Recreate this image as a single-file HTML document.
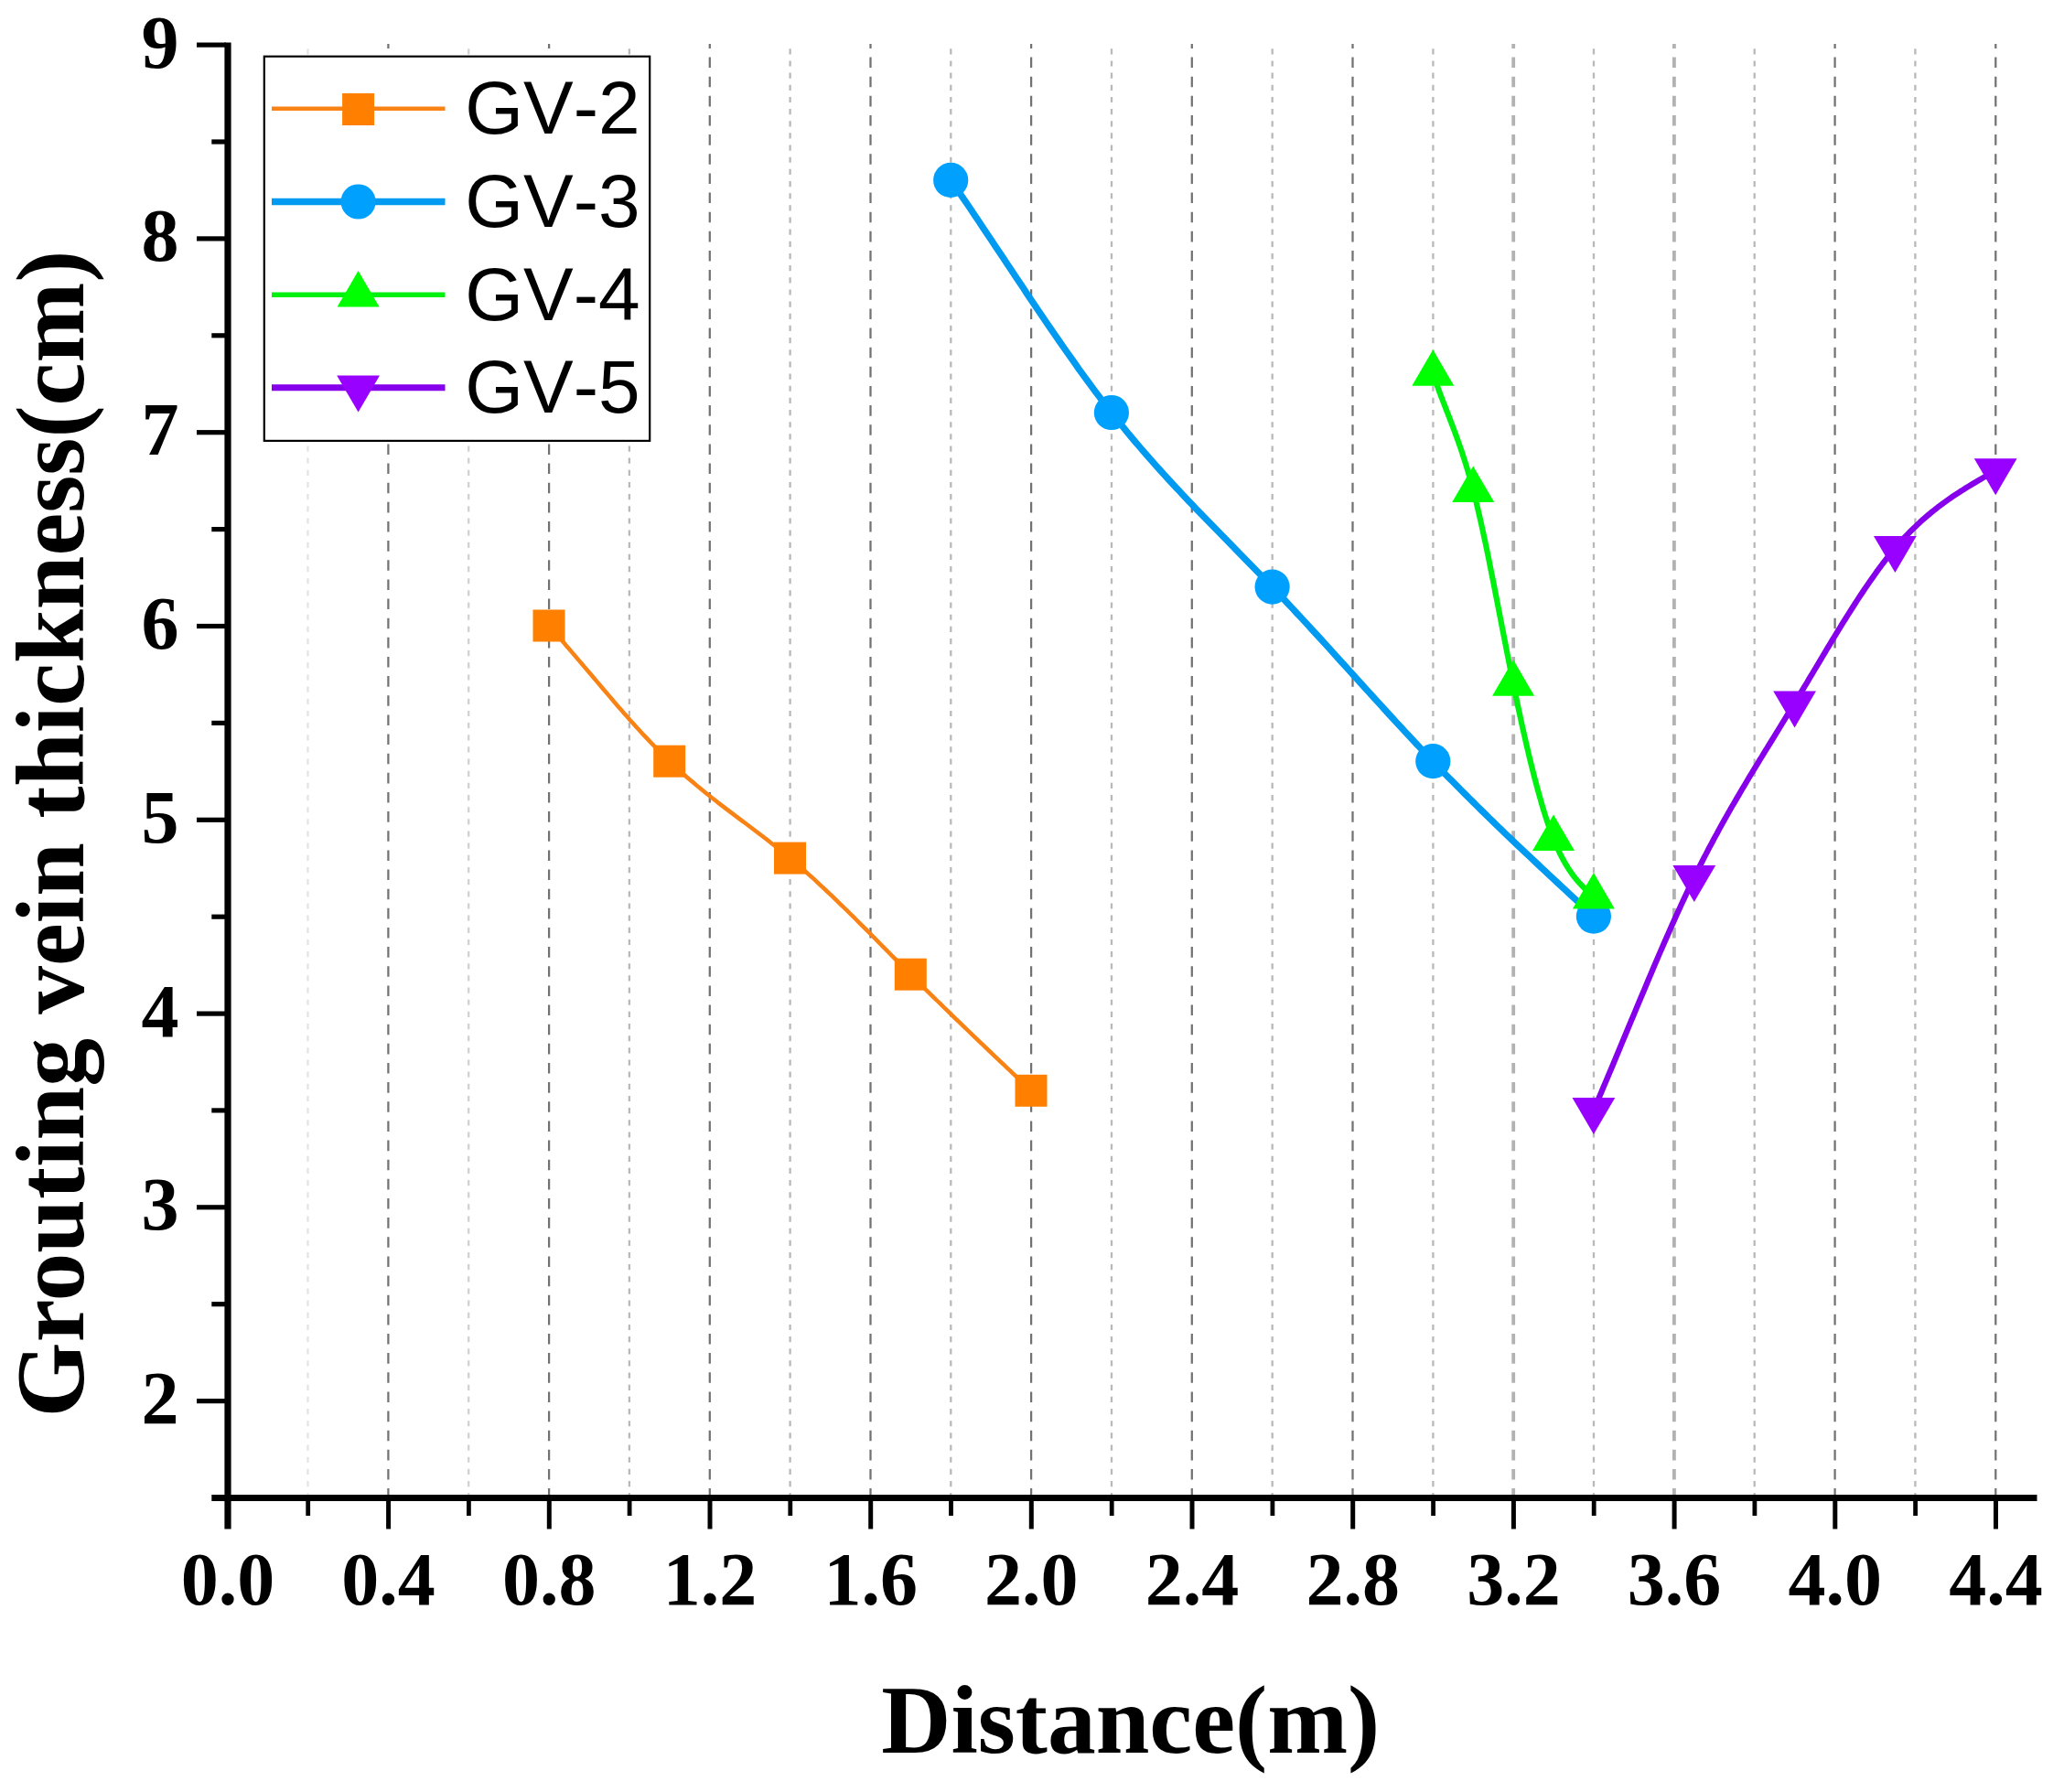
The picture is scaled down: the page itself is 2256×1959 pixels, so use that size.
<!DOCTYPE html>
<html lang="en"><head><meta charset="utf-8"><title>Grouting vein thickness vs distance</title>
<style>html,body{margin:0;padding:0;background:#fff}svg{display:block}</style></head>
<body>
<svg width="2256" height="1959" viewBox="0 0 2256 1959">
<rect width="2256" height="1959" fill="#fff"/>
<g fill="none">
<line x1="336.5" y1="1633.95" x2="336.5" y2="53.2" stroke="#e4e4e4" stroke-width="2.3" stroke-dasharray="6.2 6.957" stroke-dashoffset="4.35"/>
<line x1="424.4" y1="1633.95" x2="424.4" y2="48" stroke="#727272" stroke-width="2.25" stroke-dasharray="11.6 9.543" stroke-dashoffset="4.75"/>
<line x1="512.2" y1="1633.95" x2="512.2" y2="53.2" stroke="#d2d2d2" stroke-width="2.3" stroke-dasharray="6.2 6.957" stroke-dashoffset="4.35"/>
<line x1="600.1" y1="1633.95" x2="600.1" y2="48" stroke="#727272" stroke-width="2.25" stroke-dasharray="11.6 9.543" stroke-dashoffset="4.75"/>
<line x1="687.9" y1="1633.95" x2="687.9" y2="53.2" stroke="#b9b9b9" stroke-width="2.3" stroke-dasharray="6.2 6.957" stroke-dashoffset="4.35"/>
<line x1="775.8" y1="1633.95" x2="775.8" y2="48" stroke="#727272" stroke-width="2.25" stroke-dasharray="11.6 9.543" stroke-dashoffset="4.75"/>
<line x1="863.6" y1="1633.95" x2="863.6" y2="53.2" stroke="#b9b9b9" stroke-width="2.3" stroke-dasharray="6.2 6.957" stroke-dashoffset="4.35"/>
<line x1="951.5" y1="1633.95" x2="951.5" y2="48" stroke="#727272" stroke-width="2.25" stroke-dasharray="11.6 9.543" stroke-dashoffset="4.75"/>
<line x1="1039.3" y1="1633.95" x2="1039.3" y2="53.2" stroke="#b9b9b9" stroke-width="2.3" stroke-dasharray="6.2 6.957" stroke-dashoffset="4.35"/>
<line x1="1127.1" y1="1633.95" x2="1127.1" y2="48" stroke="#727272" stroke-width="2.25" stroke-dasharray="11.6 9.543" stroke-dashoffset="4.75"/>
<line x1="1215.0" y1="1633.95" x2="1215.0" y2="53.2" stroke="#b9b9b9" stroke-width="2.3" stroke-dasharray="6.2 6.957" stroke-dashoffset="4.35"/>
<line x1="1302.8" y1="1633.95" x2="1302.8" y2="48" stroke="#727272" stroke-width="2.25" stroke-dasharray="11.6 9.543" stroke-dashoffset="4.75"/>
<line x1="1390.7" y1="1633.95" x2="1390.7" y2="53.2" stroke="#b9b9b9" stroke-width="2.3" stroke-dasharray="6.2 6.957" stroke-dashoffset="4.35"/>
<line x1="1478.5" y1="1633.95" x2="1478.5" y2="48" stroke="#727272" stroke-width="2.25" stroke-dasharray="11.6 9.543" stroke-dashoffset="4.75"/>
<line x1="1566.4" y1="1633.95" x2="1566.4" y2="53.2" stroke="#b9b9b9" stroke-width="2.3" stroke-dasharray="6.2 6.957" stroke-dashoffset="4.35"/>
<line x1="1654.2" y1="1633.95" x2="1654.2" y2="48" stroke="#b2b2b2" stroke-width="3.8" stroke-dasharray="11.6 9.543" stroke-dashoffset="4.75"/>
<line x1="1742.0" y1="1633.95" x2="1742.0" y2="53.2" stroke="#b9b9b9" stroke-width="2.3" stroke-dasharray="6.2 6.957" stroke-dashoffset="4.35"/>
<line x1="1829.9" y1="1633.95" x2="1829.9" y2="48" stroke="#b2b2b2" stroke-width="3.8" stroke-dasharray="11.6 9.543" stroke-dashoffset="4.75"/>
<line x1="1917.7" y1="1633.95" x2="1917.7" y2="53.2" stroke="#b9b9b9" stroke-width="2.3" stroke-dasharray="6.2 6.957" stroke-dashoffset="4.35"/>
<line x1="2005.6" y1="1633.95" x2="2005.6" y2="48" stroke="#727272" stroke-width="2.25" stroke-dasharray="11.6 9.543" stroke-dashoffset="4.75"/>
<line x1="2093.4" y1="1633.95" x2="2093.4" y2="53.2" stroke="#b9b9b9" stroke-width="2.3" stroke-dasharray="6.2 6.957" stroke-dashoffset="4.35"/>
<line x1="2181.3" y1="1633.95" x2="2181.3" y2="48" stroke="#727272" stroke-width="2.25" stroke-dasharray="11.6 9.543" stroke-dashoffset="4.75"/>
</g>
<g stroke="#000" fill="none">
<line x1="249.0" y1="46.6" x2="249.0" y2="1671.5" stroke-width="7.2"/>
<line x1="231.3" y1="1637.45" x2="2226.5" y2="1637.45" stroke-width="7"/>
<line x1="215" y1="1531.6" x2="247" y2="1531.6" stroke-width="5.2"/>
<line x1="231.3" y1="1425.7" x2="247" y2="1425.7" stroke-width="5.2"/>
<line x1="215" y1="1319.8" x2="247" y2="1319.8" stroke-width="5.2"/>
<line x1="231.3" y1="1213.9" x2="247" y2="1213.9" stroke-width="5.2"/>
<line x1="215" y1="1108.1" x2="247" y2="1108.1" stroke-width="5.2"/>
<line x1="231.3" y1="1002.2" x2="247" y2="1002.2" stroke-width="5.2"/>
<line x1="215" y1="896.3" x2="247" y2="896.3" stroke-width="5.2"/>
<line x1="231.3" y1="790.4" x2="247" y2="790.4" stroke-width="5.2"/>
<line x1="215" y1="684.5" x2="247" y2="684.5" stroke-width="5.2"/>
<line x1="231.3" y1="578.6" x2="247" y2="578.6" stroke-width="5.2"/>
<line x1="215" y1="472.7" x2="247" y2="472.7" stroke-width="5.2"/>
<line x1="231.3" y1="366.8" x2="247" y2="366.8" stroke-width="5.2"/>
<line x1="215" y1="260.9" x2="247" y2="260.9" stroke-width="5.2"/>
<line x1="231.3" y1="155.0" x2="247" y2="155.0" stroke-width="5.2"/>
<line x1="215" y1="49.1" x2="247" y2="49.1" stroke-width="5.2"/>
<line x1="336.7" y1="1637.45" x2="336.7" y2="1657" stroke-width="4.8"/>
<line x1="424.6" y1="1637.45" x2="424.6" y2="1671.5" stroke-width="5"/>
<line x1="512.4" y1="1637.45" x2="512.4" y2="1657" stroke-width="4.8"/>
<line x1="600.3" y1="1637.45" x2="600.3" y2="1671.5" stroke-width="5"/>
<line x1="688.1" y1="1637.45" x2="688.1" y2="1657" stroke-width="4.8"/>
<line x1="776.0" y1="1637.45" x2="776.0" y2="1671.5" stroke-width="5"/>
<line x1="863.8" y1="1637.45" x2="863.8" y2="1657" stroke-width="4.8"/>
<line x1="951.7" y1="1637.45" x2="951.7" y2="1671.5" stroke-width="5"/>
<line x1="1039.5" y1="1637.45" x2="1039.5" y2="1657" stroke-width="4.8"/>
<line x1="1127.3" y1="1637.45" x2="1127.3" y2="1671.5" stroke-width="5"/>
<line x1="1215.2" y1="1637.45" x2="1215.2" y2="1657" stroke-width="4.8"/>
<line x1="1303.0" y1="1637.45" x2="1303.0" y2="1671.5" stroke-width="5"/>
<line x1="1390.9" y1="1637.45" x2="1390.9" y2="1657" stroke-width="4.8"/>
<line x1="1478.7" y1="1637.45" x2="1478.7" y2="1671.5" stroke-width="5"/>
<line x1="1566.6" y1="1637.45" x2="1566.6" y2="1657" stroke-width="4.8"/>
<line x1="1654.4" y1="1637.45" x2="1654.4" y2="1671.5" stroke-width="5"/>
<line x1="1742.2" y1="1637.45" x2="1742.2" y2="1657" stroke-width="4.8"/>
<line x1="1830.1" y1="1637.45" x2="1830.1" y2="1671.5" stroke-width="5"/>
<line x1="1917.9" y1="1637.45" x2="1917.9" y2="1657" stroke-width="4.8"/>
<line x1="2005.8" y1="1637.45" x2="2005.8" y2="1671.5" stroke-width="5"/>
<line x1="2093.6" y1="1637.45" x2="2093.6" y2="1657" stroke-width="4.8"/>
<line x1="2181.5" y1="1637.45" x2="2181.5" y2="1671.5" stroke-width="5"/>
</g>
<path d="M600.0 684.0 L603.3 687.7 L606.6 691.5 L609.9 695.2 L613.2 699.0 L616.4 702.8 L619.7 706.7 L623.0 710.5 L626.3 714.4 L629.6 718.2 L632.9 722.1 L636.2 726.0 L639.5 729.9 L642.8 733.8 L646.1 737.6 L649.4 741.5 L652.7 745.4 L656.0 749.3 L659.3 753.2 L662.6 757.0 L665.9 760.9 L669.2 764.7 L672.4 768.6 L675.7 772.4 L679.0 776.1 L682.3 779.9 L685.6 783.6 L688.9 787.4 L692.2 791.0 L695.5 794.7 L698.8 798.3 L702.1 801.9 L705.4 805.4 L708.7 808.9 L712.0 812.4 L715.3 815.8 L718.6 819.2 L721.9 822.5 L725.2 825.8 L728.4 829.1 L731.7 832.2 L735.0 835.4 L738.3 838.4 L741.6 841.4 L744.9 844.4 L748.2 847.3 L751.5 850.2 L754.8 853.0 L758.1 855.8 L761.4 858.6 L764.7 861.3 L768.0 864.0 L771.3 866.7 L774.6 869.3 L777.9 871.9 L781.2 874.5 L784.4 877.1 L787.7 879.6 L791.0 882.1 L794.3 884.6 L797.6 887.1 L800.9 889.6 L804.2 892.1 L807.5 894.6 L810.8 897.1 L814.1 899.5 L817.4 902.0 L820.7 904.5 L824.0 907.0 L827.3 909.5 L830.6 912.0 L833.9 914.5 L837.2 917.0 L840.4 919.6 L843.7 922.2 L847.0 924.7 L850.3 927.4 L853.6 930.0 L856.9 932.7 L860.2 935.4 L863.5 938.1 L866.8 940.9 L870.1 943.7 L873.4 946.6 L876.7 949.4 L880.0 952.3 L883.3 955.3 L886.6 958.2 L889.9 961.2 L893.2 964.3 L896.4 967.3 L899.7 970.4 L903.0 973.5 L906.3 976.6 L909.6 979.7 L912.9 982.9 L916.2 986.1 L919.5 989.3 L922.8 992.5 L926.1 995.7 L929.4 999.0 L932.7 1002.2 L936.0 1005.5 L939.3 1008.8 L942.6 1012.1 L945.9 1015.4 L949.2 1018.7 L952.5 1022.0 L955.7 1025.3 L959.0 1028.6 L962.3 1032.0 L965.6 1035.3 L968.9 1038.6 L972.2 1042.0 L975.5 1045.3 L978.8 1048.6 L982.1 1051.9 L985.4 1055.3 L988.7 1058.6 L992.0 1061.9 L995.3 1065.2 L998.6 1068.5 L1001.9 1071.8 L1005.2 1075.0 L1008.5 1078.3 L1011.7 1081.6 L1015.0 1084.8 L1018.3 1088.1 L1021.6 1091.3 L1024.9 1094.5 L1028.2 1097.7 L1031.5 1101.0 L1034.8 1104.2 L1038.1 1107.4 L1041.4 1110.6 L1044.7 1113.8 L1048.0 1116.9 L1051.3 1120.1 L1054.6 1123.3 L1057.9 1126.5 L1061.2 1129.6 L1064.5 1132.8 L1067.7 1135.9 L1071.0 1139.1 L1074.3 1142.2 L1077.6 1145.4 L1080.9 1148.5 L1084.2 1151.7 L1087.5 1154.8 L1090.8 1157.9 L1094.1 1161.1 L1097.4 1164.2 L1100.7 1167.3 L1104.0 1170.4 L1107.3 1173.6 L1110.6 1176.7 L1113.9 1179.8 L1117.2 1182.9 L1120.5 1186.0 L1123.7 1189.1 L1127.0 1192.3" fill="none" stroke="#F88214" stroke-width="4.5" stroke-linejoin="round"/>
<rect x="582.5" y="666.5" width="35" height="35" fill="#FF8000"/>
<rect x="714.2" y="814.7" width="35" height="35" fill="#FF8000"/>
<rect x="846.0" y="920.6" width="35" height="35" fill="#FF8000"/>
<rect x="977.8" y="1047.7" width="35" height="35" fill="#FF8000"/>
<rect x="1109.5" y="1174.8" width="35" height="35" fill="#FF8000"/>
<path d="M1039.2 196.9 L1043.6 203.3 L1048.0 209.7 L1052.4 216.1 L1056.8 222.6 L1061.2 229.1 L1065.5 235.6 L1069.9 242.1 L1074.3 248.7 L1078.7 255.3 L1083.1 261.8 L1087.5 268.4 L1091.9 275.0 L1096.3 281.6 L1100.7 288.2 L1105.1 294.8 L1109.5 301.4 L1113.9 308.0 L1118.3 314.6 L1122.6 321.2 L1127.0 327.7 L1131.4 334.3 L1135.8 340.8 L1140.2 347.3 L1144.6 353.7 L1149.0 360.1 L1153.4 366.5 L1157.8 372.9 L1162.2 379.2 L1166.6 385.5 L1171.0 391.7 L1175.4 397.9 L1179.7 404.1 L1184.1 410.1 L1188.5 416.2 L1192.9 422.1 L1197.3 428.1 L1201.7 433.9 L1206.1 439.7 L1210.5 445.4 L1214.9 451.0 L1219.3 456.6 L1223.7 462.1 L1228.1 467.5 L1232.5 472.9 L1236.8 478.1 L1241.2 483.4 L1245.6 488.5 L1250.0 493.6 L1254.4 498.7 L1258.8 503.7 L1263.2 508.6 L1267.6 513.5 L1272.0 518.4 L1276.4 523.2 L1280.8 528.0 L1285.2 532.7 L1289.6 537.4 L1293.9 542.1 L1298.3 546.7 L1302.7 551.3 L1307.1 555.9 L1311.5 560.5 L1315.9 565.0 L1320.3 569.5 L1324.7 574.1 L1329.1 578.6 L1333.5 583.0 L1337.9 587.5 L1342.3 592.0 L1346.7 596.5 L1351.0 600.9 L1355.4 605.4 L1359.8 609.9 L1364.2 614.4 L1368.6 618.9 L1373.0 623.4 L1377.4 627.9 L1381.8 632.5 L1386.2 637.0 L1390.6 641.6 L1395.0 646.2 L1399.4 650.9 L1403.7 655.5 L1408.1 660.2 L1412.5 664.9 L1416.9 669.7 L1421.3 674.4 L1425.7 679.1 L1430.1 683.9 L1434.5 688.7 L1438.9 693.5 L1443.3 698.3 L1447.7 703.1 L1452.1 707.9 L1456.5 712.8 L1460.8 717.6 L1465.2 722.5 L1469.6 727.3 L1474.0 732.2 L1478.4 737.0 L1482.8 741.9 L1487.2 746.7 L1491.6 751.6 L1496.0 756.4 L1500.4 761.2 L1504.8 766.1 L1509.2 770.9 L1513.6 775.7 L1517.9 780.5 L1522.3 785.3 L1526.7 790.1 L1531.1 794.8 L1535.5 799.6 L1539.9 804.3 L1544.3 809.0 L1548.7 813.7 L1553.1 818.4 L1557.5 823.0 L1561.9 827.6 L1566.3 832.2 L1570.7 836.8 L1575.0 841.4 L1579.4 845.9 L1583.8 850.4 L1588.2 854.8 L1592.6 859.3 L1597.0 863.7 L1601.4 868.1 L1605.8 872.5 L1610.2 876.9 L1614.6 881.2 L1619.0 885.6 L1623.4 889.9 L1627.8 894.2 L1632.1 898.4 L1636.5 902.7 L1640.9 906.9 L1645.3 911.2 L1649.7 915.4 L1654.1 919.6 L1658.5 923.8 L1662.9 927.9 L1667.3 932.1 L1671.7 936.2 L1676.1 940.4 L1680.5 944.5 L1684.8 948.6 L1689.2 952.7 L1693.6 956.8 L1698.0 960.9 L1702.4 965.0 L1706.8 969.1 L1711.2 973.2 L1715.6 977.3 L1720.0 981.3 L1724.4 985.4 L1728.8 989.5 L1733.2 993.5 L1737.6 997.6 L1741.9 1001.7" fill="none" stroke="#009AF0" stroke-width="7.2" stroke-linejoin="round"/>
<circle cx="1039.2" cy="196.9" r="19.1" fill="#00A0FF"/>
<circle cx="1214.9" cy="451.0" r="19.1" fill="#00A0FF"/>
<circle cx="1390.6" cy="641.6" r="19.1" fill="#00A0FF"/>
<circle cx="1566.3" cy="832.2" r="19.1" fill="#00A0FF"/>
<circle cx="1741.9" cy="1001.7" r="19.1" fill="#00A0FF"/>
<path d="M1566.3 408.7 L1567.4 411.8 L1568.5 414.9 L1569.6 418.0 L1570.7 421.0 L1571.8 424.0 L1572.8 426.9 L1573.9 429.9 L1575.0 432.8 L1576.1 435.6 L1577.2 438.5 L1578.3 441.4 L1579.4 444.2 L1580.5 447.0 L1581.6 449.9 L1582.7 452.7 L1583.8 455.5 L1584.9 458.4 L1586.0 461.3 L1587.1 464.1 L1588.2 467.1 L1589.3 470.0 L1590.4 472.9 L1591.5 475.9 L1592.6 479.0 L1593.7 482.0 L1594.8 485.2 L1595.9 488.3 L1597.0 491.6 L1598.1 494.8 L1599.2 498.2 L1600.3 501.6 L1601.4 505.0 L1602.5 508.6 L1603.6 512.2 L1604.7 515.9 L1605.8 519.7 L1606.9 523.6 L1608.0 527.5 L1609.1 531.6 L1610.2 535.7 L1611.3 540.0 L1612.4 544.4 L1613.5 548.8 L1614.6 553.4 L1615.7 558.0 L1616.8 562.7 L1617.9 567.5 L1619.0 572.4 L1620.1 577.4 L1621.2 582.4 L1622.3 587.5 L1623.4 592.6 L1624.5 597.8 L1625.6 603.1 L1626.7 608.4 L1627.8 613.8 L1628.8 619.2 L1629.9 624.6 L1631.0 630.1 L1632.1 635.7 L1633.2 641.2 L1634.3 646.8 L1635.4 652.4 L1636.5 658.0 L1637.6 663.6 L1638.7 669.3 L1639.8 675.0 L1640.9 680.6 L1642.0 686.3 L1643.1 691.9 L1644.2 697.6 L1645.3 703.2 L1646.4 708.8 L1647.5 714.5 L1648.6 720.0 L1649.7 725.6 L1650.8 731.1 L1651.9 736.6 L1653.0 742.1 L1654.1 747.5 L1655.2 752.9 L1656.3 758.2 L1657.4 763.5 L1658.5 768.8 L1659.6 774.0 L1660.7 779.1 L1661.8 784.2 L1662.9 789.3 L1664.0 794.3 L1665.1 799.2 L1666.2 804.1 L1667.3 808.9 L1668.4 813.7 L1669.5 818.4 L1670.6 823.1 L1671.7 827.7 L1672.8 832.2 L1673.9 836.7 L1675.0 841.1 L1676.1 845.4 L1677.2 849.7 L1678.3 853.9 L1679.4 858.0 L1680.5 862.1 L1681.6 866.1 L1682.7 870.1 L1683.8 873.9 L1684.8 877.7 L1685.9 881.4 L1687.0 885.0 L1688.1 888.6 L1689.2 892.1 L1690.3 895.5 L1691.4 898.8 L1692.5 902.0 L1693.6 905.2 L1694.7 908.3 L1695.8 911.2 L1696.9 914.1 L1698.0 916.9 L1699.1 919.7 L1700.2 922.3 L1701.3 924.9 L1702.4 927.3 L1703.5 929.7 L1704.6 932.0 L1705.7 934.3 L1706.8 936.4 L1707.9 938.5 L1709.0 940.6 L1710.1 942.5 L1711.2 944.4 L1712.3 946.3 L1713.4 948.0 L1714.5 949.8 L1715.6 951.4 L1716.7 953.0 L1717.8 954.6 L1718.9 956.1 L1720.0 957.6 L1721.1 959.0 L1722.2 960.4 L1723.3 961.7 L1724.4 963.0 L1725.5 964.3 L1726.6 965.5 L1727.7 966.7 L1728.8 967.9 L1729.9 969.0 L1731.0 970.1 L1732.1 971.2 L1733.2 972.3 L1734.3 973.4 L1735.4 974.4 L1736.5 975.4 L1737.6 976.5 L1738.7 977.5 L1739.8 978.5 L1740.8 979.5 L1741.9 980.5" fill="none" stroke="#00F010" stroke-width="6.2" stroke-linejoin="round"/>
<path d="M1566.3 382.3 L1589.3 421.8 L1543.3 421.8 Z" fill="#00FF00"/>
<path d="M1610.2 509.4 L1633.2 548.9 L1587.2 548.9 Z" fill="#00FF00"/>
<path d="M1654.1 721.2 L1677.1 760.7 L1631.1 760.7 Z" fill="#00FF00"/>
<path d="M1698.0 890.6 L1721.0 930.1 L1675.0 930.1 Z" fill="#00FF00"/>
<path d="M1741.9 954.1 L1764.9 993.6 L1718.9 993.6 Z" fill="#00FF00"/>
<path d="M1741.9 1213.4 L1744.7 1207.1 L1747.4 1200.7 L1750.2 1194.2 L1752.9 1187.8 L1755.7 1181.3 L1758.4 1174.8 L1761.2 1168.2 L1763.9 1161.7 L1766.7 1155.1 L1769.4 1148.5 L1772.1 1141.9 L1774.9 1135.3 L1777.6 1128.7 L1780.4 1122.1 L1783.1 1115.5 L1785.9 1109.0 L1788.6 1102.4 L1791.4 1095.8 L1794.1 1089.2 L1796.9 1082.7 L1799.6 1076.2 L1802.3 1069.7 L1805.1 1063.2 L1807.8 1056.7 L1810.6 1050.3 L1813.3 1043.9 L1816.1 1037.5 L1818.8 1031.2 L1821.6 1024.9 L1824.3 1018.7 L1827.0 1012.5 L1829.8 1006.4 L1832.5 1000.3 L1835.3 994.2 L1838.0 988.3 L1840.8 982.3 L1843.5 976.5 L1846.3 970.7 L1849.0 965.0 L1851.8 959.3 L1854.5 953.7 L1857.2 948.2 L1860.0 942.8 L1862.7 937.4 L1865.5 932.1 L1868.2 926.8 L1871.0 921.7 L1873.7 916.5 L1876.5 911.5 L1879.2 906.4 L1881.9 901.5 L1884.7 896.5 L1887.4 891.7 L1890.2 886.8 L1892.9 882.0 L1895.7 877.3 L1898.4 872.6 L1901.2 867.9 L1903.9 863.2 L1906.7 858.6 L1909.4 854.0 L1912.1 849.4 L1914.9 844.9 L1917.6 840.4 L1920.4 835.8 L1923.1 831.3 L1925.9 826.9 L1928.6 822.4 L1931.4 817.9 L1934.1 813.5 L1936.9 809.0 L1939.6 804.6 L1942.3 800.1 L1945.1 795.6 L1947.8 791.2 L1950.6 786.7 L1953.3 782.2 L1956.1 777.7 L1958.8 773.2 L1961.6 768.7 L1964.3 764.2 L1967.0 759.6 L1969.8 755.0 L1972.5 750.4 L1975.3 745.8 L1978.0 741.2 L1980.8 736.6 L1983.5 732.0 L1986.3 727.4 L1989.0 722.8 L1991.8 718.2 L1994.5 713.6 L1997.2 709.0 L2000.0 704.5 L2002.7 699.9 L2005.5 695.4 L2008.2 690.9 L2011.0 686.4 L2013.7 681.9 L2016.5 677.5 L2019.2 673.1 L2022.0 668.8 L2024.7 664.5 L2027.4 660.2 L2030.2 655.9 L2032.9 651.7 L2035.7 647.6 L2038.4 643.5 L2041.2 639.5 L2043.9 635.5 L2046.7 631.6 L2049.4 627.7 L2052.1 623.9 L2054.9 620.2 L2057.6 616.5 L2060.4 612.9 L2063.1 609.4 L2065.9 605.9 L2068.6 602.6 L2071.4 599.3 L2074.1 596.1 L2076.9 593.0 L2079.6 589.9 L2082.3 587.0 L2085.1 584.1 L2087.8 581.3 L2090.6 578.5 L2093.3 575.9 L2096.1 573.3 L2098.8 570.7 L2101.6 568.2 L2104.3 565.8 L2107.0 563.5 L2109.8 561.2 L2112.5 558.9 L2115.3 556.8 L2118.0 554.6 L2120.8 552.5 L2123.5 550.5 L2126.3 548.5 L2129.0 546.5 L2131.8 544.6 L2134.5 542.7 L2137.2 540.9 L2140.0 539.1 L2142.7 537.3 L2145.5 535.6 L2148.2 533.8 L2151.0 532.1 L2153.7 530.5 L2156.5 528.8 L2159.2 527.2 L2162.0 525.6 L2164.7 524.0 L2167.4 522.4 L2170.2 520.8 L2172.9 519.2 L2175.7 517.7 L2178.4 516.1 L2181.2 514.6" fill="none" stroke="#8600EC" stroke-width="6.3" stroke-linejoin="round"/>
<path d="M1741.9 1240.1 L1765.3 1200.1 L1718.5 1200.1 Z" fill="#9800FF"/>
<path d="M1851.8 986.0 L1875.2 946.0 L1828.4 946.0 Z" fill="#9800FF"/>
<path d="M1961.6 795.4 L1985.0 755.4 L1938.2 755.4 Z" fill="#9800FF"/>
<path d="M2071.4 625.9 L2094.8 585.9 L2048.0 585.9 Z" fill="#9800FF"/>
<path d="M2181.2 541.2 L2204.6 501.2 L2157.8 501.2 Z" fill="#9800FF"/>
<rect x="288.8" y="61.7" width="421.4" height="420.2" fill="#fff" stroke="#000" stroke-width="2.2"/>
<g font-family="'Liberation Sans', Arial, sans-serif" font-size="82" fill="#000" style="font-kerning:none">
<line x1="297" y1="118.7" x2="486.5" y2="118.7" stroke="#F88214" stroke-width="4.5"/>
<rect x="374.1" y="102.0" width="35" height="35" fill="#FF8000"/>
<text x="508.2" y="146.3">GV-2</text>
<line x1="297" y1="220.5" x2="486.5" y2="220.5" stroke="#009AF0" stroke-width="7.4"/>
<circle cx="391.6" cy="220.5" r="19.1" fill="#00A0FF"/>
<text x="508.2" y="248.1">GV-3</text>
<line x1="297" y1="322.2" x2="486.5" y2="322.2" stroke="#00F010" stroke-width="5.5"/>
<path d="M391.6 295.9 L414.6 335.4 L368.6 335.4 Z" fill="#00FF00"/>
<text x="508.2" y="349.8">GV-4</text>
<line x1="297" y1="423.8" x2="486.5" y2="423.8" stroke="#8600EC" stroke-width="6.9"/>
<path d="M391.6 450.5 L415.0 410.5 L368.2 410.5 Z" fill="#9800FF"/>
<text x="508.2" y="451.4">GV-5</text>
</g>
<g font-family="'Liberation Serif', 'Times New Roman', serif" font-weight="bold" font-size="82" fill="#000">
<text x="248.9" y="1754.3" text-anchor="middle">0.0</text>
<text x="424.6" y="1754.3" text-anchor="middle">0.4</text>
<text x="600.3" y="1754.3" text-anchor="middle">0.8</text>
<text x="776.0" y="1754.3" text-anchor="middle">1.2</text>
<text x="951.7" y="1754.3" text-anchor="middle">1.6</text>
<text x="1127.3" y="1754.3" text-anchor="middle">2.0</text>
<text x="1303.0" y="1754.3" text-anchor="middle">2.4</text>
<text x="1478.7" y="1754.3" text-anchor="middle">2.8</text>
<text x="1654.4" y="1754.3" text-anchor="middle">3.2</text>
<text x="1830.1" y="1754.3" text-anchor="middle">3.6</text>
<text x="2005.8" y="1754.3" text-anchor="middle">4.0</text>
<text x="2181.5" y="1754.3" text-anchor="middle">4.4</text>
<text x="195.6" y="1556.1" text-anchor="end">2</text>
<text x="195.6" y="1344.3" text-anchor="end">3</text>
<text x="195.6" y="1132.6" text-anchor="end">4</text>
<text x="195.6" y="920.8" text-anchor="end">5</text>
<text x="195.6" y="709.0" text-anchor="end">6</text>
<text x="195.6" y="497.2" text-anchor="end">7</text>
<text x="195.6" y="285.4" text-anchor="end">8</text>
<text x="195.6" y="73.7" text-anchor="end">9</text>
</g>
<g font-family="'Liberation Serif', 'Times New Roman', serif" font-weight="bold" font-size="105.5" fill="#000">
<text x="1235.7" y="1916.3" text-anchor="middle">Distance(m)</text>
<text transform="translate(91 911.5) rotate(-90)" text-anchor="middle">Grouting vein thickness(cm)</text>
</g>
</svg>
</body></html>
